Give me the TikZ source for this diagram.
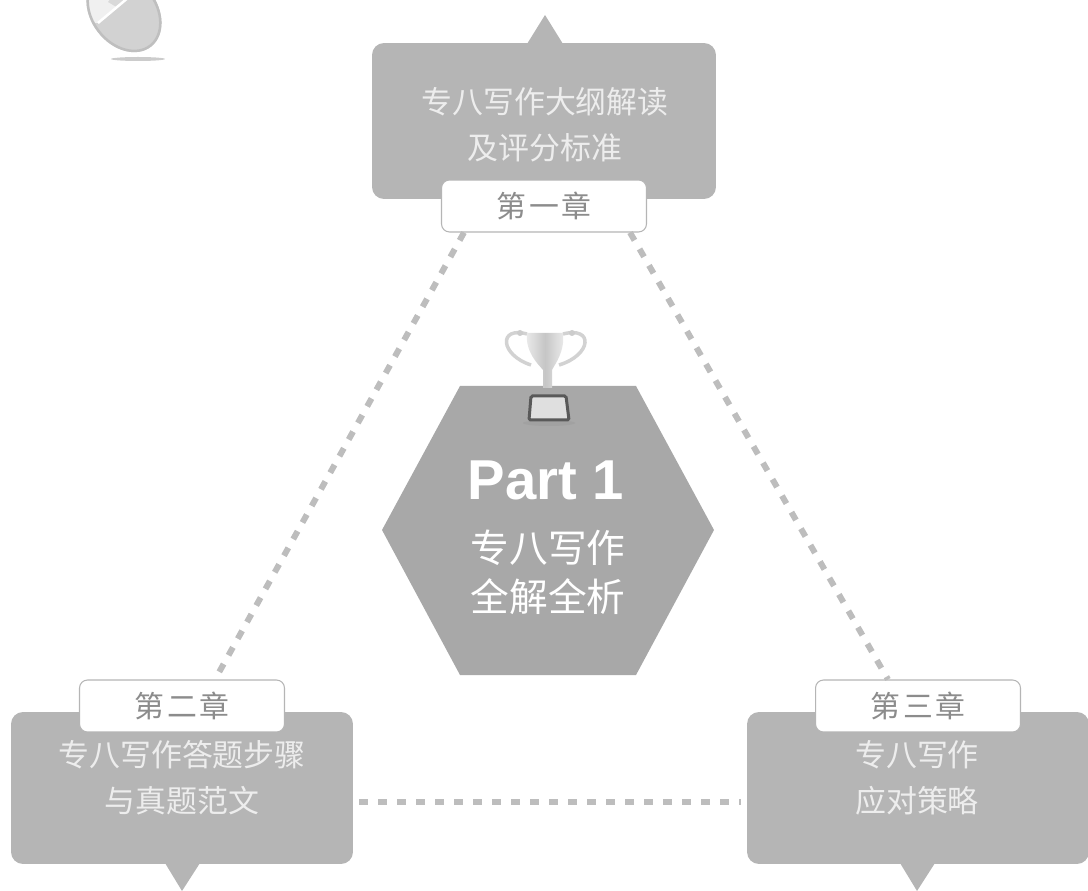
\documentclass[tikz,border=0pt]{standalone}
\usepackage{fontspec}
\usepackage{tikz}
\usetikzlibrary{shapes.geometric}
\newfontfamily\cjk{Noto Sans CJK SC}
\newfontfamily\cjkwide[LetterSpace=10]{Noto Sans CJK SC}
\setmainfont{Liberation Sans}

\begin{document}
\begin{tikzpicture}
  [
    x=0.02cm, y=-0.02cm,
    box/.style={
       fill=boxgray,
       rounded corners=2.4mm,
       minimum width=6.84cm,
       minimum height=3.04cm,
       inner sep=0
    },
    chap/.style={
       draw=boxgray,
       fill=white,
       line width=0.6pt,
       rounded corners=1.6mm,
       minimum width=4.1cm,
       minimum height=1.04cm,
       inner sep=0,
       text=chapgray,
       font=\cjkwide\fontsize{17}{17}\selectfont
    },
    title/.style={
       text=textgray,
       align=center,
       inner sep=0,
       font=\cjk\fontsize{17.6}{26}\selectfont
    },
    ld/.style={
       draw=linegray,
       line width=1.2mm,
       dash pattern=on 1.8mm off 2mm
    }
  ]
  \definecolor{boxgray}{gray}{0.71}
  \definecolor{hexgray}{gray}{0.66}
  \definecolor{chapgray}{gray}{0.55}
  \definecolor{textgray}{gray}{0.93}
  \definecolor{linegray}{gray}{0.74}

  \useasboundingbox (0,0) rectangle (1088,891);
  \clip (0,0) rectangle (1088,891);

  % connectors
  \node (boxa) at ( 544,121) [box, minimum width=6.88cm, minimum height=3.12cm] {};
  \node (boxb) at ( 182,788) [box] {};
  \node (boxc) at ( 918,788) [box] {};
  \node (chapa) at ( 544,206) [chap] {第一章};
  \node (chapb) at ( 182,706) [chap] {第二章};
  \node (chapc) at ( 918,706) [chap] {第三章};

  \fill [boxgray] (527,44) -- (545,15) -- (563,44) -- cycle;
  \fill [boxgray] (165,863) -- (182,891) -- (200,863) -- cycle;
  \fill [boxgray] (900,863) -- (917,891) -- (935,863) -- cycle;

  \draw [ld] ([xshift=0.46cm]chapa.south west) -- ([xshift=-1.4cm]chapb.north east);
  \draw [ld] ([xshift=-0.34cm]chapa.south east) -- ([xshift=1.46cm]chapc.north west);
  \draw [ld, shorten <=1.2mm, shorten >=1.2mm] ([yshift=-0.28cm]boxb.east) -- ([yshift=-0.28cm]boxc.west);

  \node (titlea) at ( 545,125) [title] {专八写作大纲解读\\及评分标准};
  \node (titleb) at ( 182,778) [title] {专八写作答题步骤\\与真题范文};
  \node (titlec) at ( 917,778) [title] {专八写作\\应对策略};

  % centre
  \fill [hexgray] (382,530) -- (460,386) -- (636,386) -- (714,530) -- (636,675) -- (460,675) -- cycle;
  \node (part) at ( 546,480) [text=white, inner sep=0,
       font=\bfseries\fontsize{32}{32}\selectfont] {Part 1};
  \node (sub) at ( 548,572) [title, text=white,
       font=\cjk\fontsize{22}{28}\selectfont] {专八写作\\全解全析};

  % trophy
  \draw [gray!35, line width=.7mm] (527,334) .. controls (498,326) and (500,355) .. (531,365);
  \draw [gray!35, line width=.7mm] (563,334) .. controls (594,326) and (592,355) .. (559,365);
  \fill [gray!40] (520,333) circle (3) (572,333) circle (3);
  \shade [left color=gray!15, right color=gray!15, middle color=gray!45]
       (527,333) -- (563,333) .. controls (565,352) and (555,364) .. (552,370)
       -- (552,388) -- (543,388) -- (543,370) .. controls (538,364) and (525,352) .. (527,333);
  \fill [gray!75, opacity=.7] (549,423) ellipse (26 and 3);
  \draw [black!65, line width=.6mm, fill=gray!25, rounded corners=.3mm]
       (531,396) -- (566,396) -- (569,420) -- (529,420) -- cycle;

  % mouse
  \fill [gray!40] (138,59) ellipse (27 and 2);
  \begin{scope}
    \clip [rotate around={-52:(124,12)}] (124,12) ellipse (44 and 33);
    \fill [gray!35] (60,-20) rectangle (180,70);
    \fill [gray!12] (98,23) -- (135,-8) -- (70,-8) -- (70,23) -- cycle;
    \fill [gray!30] (108,2) -- (116,-8) -- (132,-8) -- (118,8) -- cycle;
    \draw [white, line width=.5mm] (98,23) -- (135,-8);
    \draw [gray!50, line width=1mm, rotate around={-52:(124,12)}] (124,12) ellipse (44 and 33);
  \end{scope}
\end{tikzpicture}
\end{document}
